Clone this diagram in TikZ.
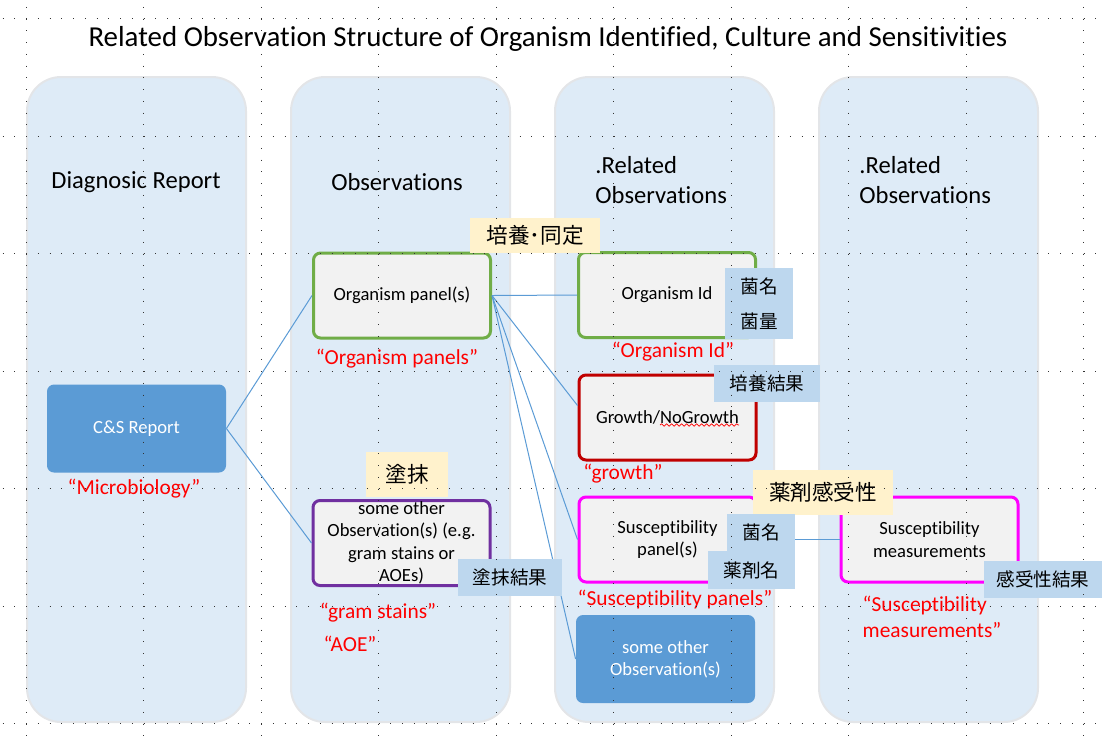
\documentclass[tikz,border=0pt]{standalone}
\usepackage{fontspec}
\setmainfont[Ligatures=NoCommon]{Carlito}
\newfontfamily\jpfont{Noto Sans CJK JP}
\usepackage{tikz}
\usetikzlibrary{decorations.pathmorphing}
\definecolor{lanefill}{HTML}{DEEBF7}
\definecolor{laneline}{HTML}{E3E5E8}
\definecolor{boxfill}{HTML}{F2F2F2}
\definecolor{mygreen}{HTML}{70AD47}
\definecolor{mydarkred}{HTML}{C00000}
\definecolor{mypurple}{HTML}{7030A0}
\definecolor{mymagenta}{HTML}{FF00FF}
\definecolor{myblue}{HTML}{5B9BD5}
\definecolor{tagblue}{HTML}{BDD7EE}
\definecolor{tagyellow}{HTML}{FFF2CC}
\definecolor{myred}{HTML}{FF0000}
\tikzset{
  lane/.style={rectangle, draw=laneline, fill=lanefill, line width=1pt,
    minimum width=109.5pt, minimum height=322.5pt, rounded corners=17pt},
  heading/.style={font=\fontsize{12.3}{15}\selectfont, align=left, inner sep=0pt},
  obsbox/.style={rectangle, fill=boxfill, line width=1.5pt,
    minimum width=88.5pt, minimum height=42.5pt, rounded corners=3.5pt,
    inner ysep=0pt, align=center, font=\fontsize{9.3}{11.2}\selectfont},
  bluebox/.style={rectangle, fill=myblue, text=white,
    minimum width=89.5pt, minimum height=44pt, rounded corners=3.5pt,
    inner ysep=0pt, align=center, font=\fontsize{9.3}{11}\selectfont},
  yellowtag/.style={rectangle, fill=tagyellow, inner sep=0pt,
    font=\jpfont\fontsize{10.5}{12}\selectfont},
  bluetag/.style={rectangle, fill=tagblue, inner sep=0pt, align=center,
    font=\jpfont\fontsize{9.3}{17.5}\selectfont},
  redlabel/.style={text=myred, inner sep=0pt, align=left,
    font=\fontsize{10.7}{13}\selectfont},
  link/.style={draw=myblue, line width=0.5pt},
  griddots/.style={black!80, line width=0.5pt, dash pattern=on 0.5pt off 5.375pt}
}

\begin{document}
\begin{tikzpicture}[x=0.5pt, y=-0.5pt]
  \useasboundingbox (0,0) rectangle (1102,736);

  % Title
  \node[font=\fontsize{14.45}{17}\selectfont] (title) at (548,39) {Related Observation Structure of Organism Identified, Culture and Sensitivities};

  % Lanes
  \node[lane] (lane1) at (136.5,399.5) {};
  \node[lane] (lane2) at (400.5,399.5) {};
  \node[lane] (lane3) at (664.5,399.5) {};
  \node[lane] (lane4) at (928.5,399.5) {};

  % Lane headings
  \node[heading] (head1) at (136,182) {Diagnosic Report};
  \node[heading] (head2) at (397,182) {Observations};
  \node[heading, anchor=west] (head3) at (595,180) {.Related\\Observations};
  \node[heading, anchor=west] (head4) at (859,180) {.Related\\Observations};

  % Report
  \node[bluebox] (csr) at (136.5,428.5) {C\&S Report};

  % Observations
  \node[obsbox, draw=mygreen] (orgpanel) at (402,295.5) {Organism panel(s)};
  \node[obsbox, draw=mypurple] (otherobs) at (401.5,543) {some other\\Observation(s) (e.g.\\gram stains or\\AOEs)};

  % Related observations
  \node[obsbox, draw=mygreen] (orgid) at (667,295) {Organism Id};
  \node[obsbox, draw=mydarkred] (growth) at (667.5,417.5) {Growth/NoGrowth};
  \node[obsbox, draw=mymagenta] (suscpanel) at (667.5,539.5) {Susceptibility\\panel(s)};
  \node[bluebox] (otherobs2) at (665.5,659) {some other\\Observation(s)};
  \node[obsbox, draw=mymagenta] (suscmeas) at (929.5,539.5) {Susceptibility\\measurements};

  % Links
  \draw[link] (csr.east) -- (orgpanel.west);
  \draw[link] (csr.east) -- (otherobs.west);
  \draw[link] (orgpanel.east) -- (orgid.west);
  \draw[link] (orgpanel.east) -- ([yshift=6pt]growth.west);
  \draw[link] (orgpanel.east) -- (suscpanel.west);
  \draw[link] (orgpanel.east) -- (otherobs2.west);
  \draw[link] (suscpanel.east) -- (suscmeas.west);

  % Spelling mark
  \draw[myred, line width=0.35pt, decorate, decoration={snake, amplitude=0.6pt, segment length=2.5pt}] (660,425) -- (739,425);

  % Japanese tags
  \node[yellowtag, minimum width=65pt, minimum height=17.5pt, font=\jpfont\fontsize{10.8}{12}\selectfont] (tagculture) at (535,235.5) {培養･同定};
  \node[yellowtag, minimum width=41pt, minimum height=22.5pt, font=\jpfont\fontsize{10.8}{12}\selectfont] (tagsmear) at (407,474.5) {塗抹};
  \node[yellowtag, minimum width=70pt, minimum height=22.5pt, font=\jpfont\fontsize{10.8}{12}\selectfont] (tagsusc) at (823,492) {薬剤感受性};
  \node[bluetag, minimum width=34pt, minimum height=35.5pt] (tagorg) at (759,303.5) {菌名\\菌量};
  \node[bluetag, minimum width=53pt, minimum height=18.5pt] (taggrowth) at (767,383.5) {培養結果};
  \node[bluetag, minimum width=52pt, minimum height=18.5pt] (tagsmearres) at (510,577.5) {塗抹結果};
  \node[bluetag, minimum width=34pt, minimum height=18.5pt] (tagbug) at (761,532.5) {菌名};
  \node[bluetag, minimum width=43.5pt, minimum height=19pt] (tagdrug) at (751.5,570) {薬剤名};
  \node[bluetag, minimum width=59.5pt, minimum height=18.5pt] (tagsuscres) at (1043,579.5) {感受性結果};

  % Red names
  \node[redlabel] (namemicro) at (134,489) {“Microbiology”};
  \node[redlabel] (nameorgpanel) at (397,359) {“Organism panels”};
  \node[redlabel] (nameorgid) at (673,352) {“Organism Id”};
  \node[redlabel] (namegrowth) at (623,474) {“growth”};
  \node[redlabel] (namegram) at (378,613) {“gram stains”};
  \node[redlabel] (nameaoe) at (350,644) {“AOE”};
  \node[redlabel] (namesuscpanel) at (675,599) {“Susceptibility panels”};
  \node[redlabel] (namesuscmeas) at (932,617) {“Susceptibility\\measurements”};

  % Grid
  \foreach \gx in {26,143.5,...,1090}
    \draw[griddots] (\gx,6.75) -- (\gx,736);
  \foreach \gy in {18.5,136,...,730}
    \draw[griddots] (2.5,\gy) -- (1102,\gy);
\end{tikzpicture}
\end{document}
